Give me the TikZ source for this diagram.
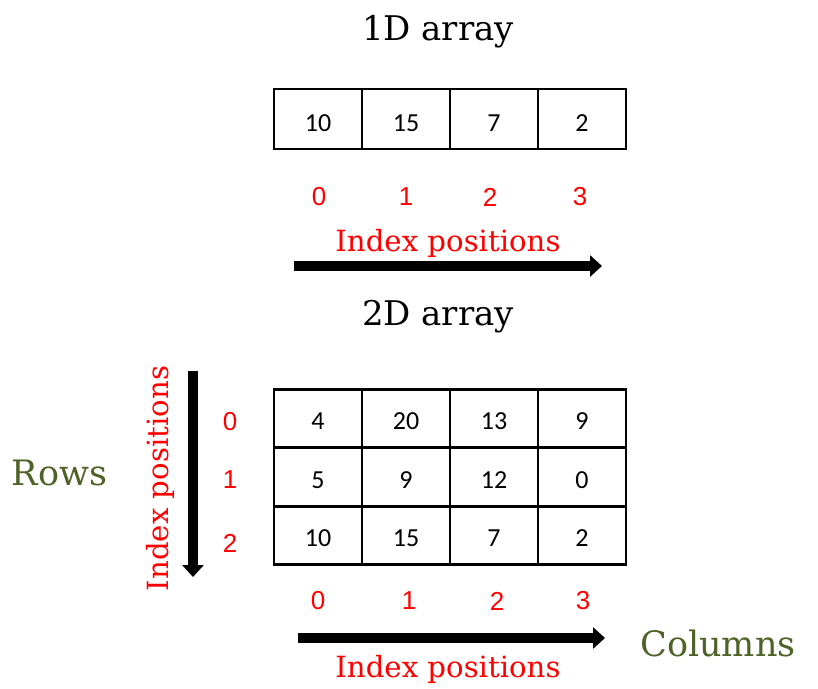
\documentclass[tikz,border=0pt]{standalone}
\usepackage{fontspec}
\newfontfamily\cellfont{Carlito}
\newfontfamily\digfont{Liberation Sans}
\newfontfamily\seriffont{DejaVu Serif}
\usetikzlibrary{arrows.meta}
\definecolor{idxred}{RGB}{255,0,0}
\definecolor{olivegreen}{HTML}{4F6228}
\begin{document}
\begin{tikzpicture}[x=1pt,y=-1pt,
  cellbox/.style={draw=black, line width=2.8pt, minimum width=88pt, inner sep=0pt,
    font={\cellfont\fontsize{26pt}{30pt}\selectfont}, text depth=0pt},
  onedcell/.style={cellbox, minimum height=60pt, text height=24.5pt},
  twodcell/.style={cellbox, minimum height=58.5pt, text height=22.5pt},
  idxdigit/.style={text=idxred, inner sep=0pt, font={\digfont\fontsize{26pt}{30pt}\selectfont}},
  idxlabel/.style={text=idxred, inner sep=0pt, anchor=base, font={\seriffont\fontsize{29.2pt}{34pt}\selectfont}},
  titletext/.style={inner sep=0pt, anchor=base, font={\seriffont\fontsize{34pt}{40pt}\selectfont}},
  axislabel/.style={text=olivegreen, inner sep=0pt, anchor=base, font={\seriffont\fontsize{35pt}{42pt}\selectfont}},
  bigarrow/.style={line width=10.5pt, -{Triangle[length=12pt,width=21pt]}}
]
\useasboundingbox[fill=white] (0,0) rectangle (818,688);

% titles
\node[titletext] (t1) at (438,40) {1D array};
\node[titletext] (t2) at (438,325) {2D array};

% 1D array
\node[onedcell] (c0) at (318,119) {10};
\node[onedcell] (c1) at (406,119) {15};
\node[onedcell] (c2) at (494,119) {7};
\node[onedcell] (c3) at (582,119) {2};

\node[idxdigit] (i0) at (319,197) {0};
\node[idxdigit] (i1) at (406,197) {1};
\node[idxdigit] (i2) at (490,197) {2};
\node[idxdigit] (i3) at (580,197) {3};

\node[idxlabel] (ip1) at (448,251.5) {Index positions};
\coordinate (a1s) at (294,266);
\coordinate (a1e) at (602,266);
\draw[bigarrow] (a1s) -- (a1e);

% 2D array
\node[twodcell] (m00) at (318,418.5) {4};
\node[twodcell] (m01) at (406,418.5) {20};
\node[twodcell] (m02) at (494,418.5) {13};
\node[twodcell] (m03) at (582,418.5) {9};
\node[twodcell] (m10) at (318,477) {5};
\node[twodcell] (m11) at (406,477) {9};
\node[twodcell] (m12) at (494,477) {12};
\node[twodcell] (m13) at (582,477) {0};
\node[twodcell] (m20) at (318,535.5) {10};
\node[twodcell] (m21) at (406,535.5) {15};
\node[twodcell] (m22) at (494,535.5) {7};
\node[twodcell] (m23) at (582,535.5) {2};

% row indices
\node[idxdigit] (r0) at (230,422) {0};
\node[idxdigit] (r1) at (230,480) {1};
\node[idxdigit] (r2) at (230,543) {2};

% column indices
\node[idxdigit] (k0) at (318,601) {0};
\node[idxdigit] (k1) at (409,601) {1};
\node[idxdigit] (k2) at (497,601) {2};
\node[idxdigit] (k3) at (583,601) {3};

% vertical arrow and label
\coordinate (a2s) at (193,371);
\coordinate (a2e) at (193,577);
\draw[bigarrow] (a2s) -- (a2e);
\node[idxlabel, rotate=90] (ip2) at (168,478.5) {Index positions};

% horizontal arrow and label
\coordinate (a3s) at (298,638);
\coordinate (a3e) at (605,638);
\draw[bigarrow] (a3s) -- (a3e);
\node[idxlabel] (ip3) at (448,677) {Index positions};

% axis names
\node[axislabel] (rows) at (59.5,485) {Rows};
\node[axislabel] (cols) at (718,656) {Columns};
\end{tikzpicture}
\end{document}
